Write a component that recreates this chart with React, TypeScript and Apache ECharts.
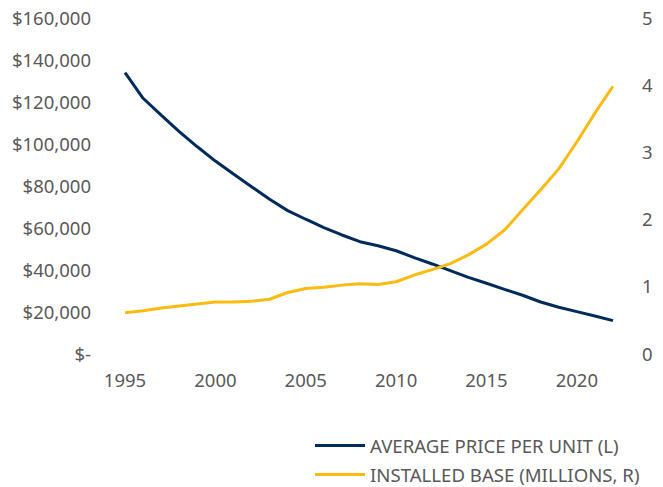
import React, { useEffect, useRef } from "react";
import * as echarts from "echarts";

const years = [
  "1995", "1996", "1997", "1998", "1999", "2000", "2001", "2002", "2003", "2004",
  "2005", "2006", "2007", "2008", "2009", "2010", "2011", "2012", "2013", "2014",
  "2015", "2016", "2017", "2018", "2019", "2020", "2021", "2022",
];

const avgPrice = [
  133500, 121300, 113300, 105400, 98200, 91400, 85200, 79200, 73200, 67800,
  63700, 59700, 56200, 53000, 51100, 48700, 45400, 42400, 39200, 36000,
  33200, 30300, 27500, 24300, 21800, 19700, 17600, 15400,
];

const installedBase = [
  0.6, 0.63, 0.67, 0.7, 0.73, 0.76, 0.76, 0.77, 0.8, 0.9,
  0.96, 0.98, 1.01, 1.03, 1.02, 1.06, 1.16, 1.24, 1.33, 1.46,
  1.62, 1.83, 2.13, 2.43, 2.74, 3.14, 3.57, 3.97,
];

const seriesNames = ["AVERAGE PRICE PER UNIT (L)", "INSTALLED BASE (MILLIONS, R)"];

const FONT = "'Noto Sans', 'Open Sans', sans-serif";
const GRAY = "#595959";
const NAVY = "#002B5C";
const GOLD = "#FDBB12";
const AXIS_FS = 18.5;
const LEGEND_FS = 18.6;

export default function App() {
  const ref = useRef<HTMLDivElement>(null);
  useEffect(() => {
    if (!ref.current) return;
    const chart = echarts.init(ref.current, undefined, { renderer: "svg" });
    const legendBase = {
      orient: "vertical",
      left: 315,
      padding: 0,
      itemWidth: 50,
      itemHeight: 3,
      itemGap: 5,
      icon: "rect",
      textStyle: { color: GRAY, fontSize: LEGEND_FS, lineHeight: 17, fontFamily: FONT },
    };
    chart.setOption({
      animation: false,
      textStyle: { fontFamily: FONT },
      grid: { left: 116, right: 41, top: 17, bottom: 487 - 353 },
      legend: [
        { ...legendBase, top: 436, data: [seriesNames[0]] },
        { ...legendBase, top: 465, data: [seriesNames[1]] },
      ],
      xAxis: {
        type: "category",
        data: years,
        boundaryGap: true,
        axisLine: { show: false },
        axisTick: { show: false },
        axisLabel: {
          interval: 4,
          color: GRAY,
          fontSize: AXIS_FS,
          margin: 17,
        },
      },
      yAxis: [
        {
          type: "value",
          min: 0,
          max: 160000,
          interval: 20000,
          splitLine: { show: false },
          axisLine: { show: false },
          axisTick: { show: false },
          axisLabel: {
            color: GRAY,
            fontSize: AXIS_FS,
            margin: 25,
            formatter: (v: number) => (v === 0 ? "$-" : "$" + v.toLocaleString("en-US")),
          },
        },
        {
          type: "value",
          min: 0,
          max: 5,
          interval: 1,
          position: "right",
          splitLine: { show: false },
          axisLine: { show: false },
          axisTick: { show: false },
          axisLabel: { color: GRAY, fontSize: AXIS_FS, margin: 20 },
        },
      ],
      series: [
        {
          name: seriesNames[0],
          type: "line",
          yAxisIndex: 0,
          data: avgPrice,
          showSymbol: false,
          color: NAVY,
          lineStyle: { width: 3, color: NAVY },
        },
        {
          name: seriesNames[1],
          type: "line",
          yAxisIndex: 1,
          data: installedBase,
          showSymbol: false,
          color: GOLD,
          lineStyle: { width: 3, color: GOLD },
        },
      ],
    });
    return () => chart.dispose();
  }, []);
  return <div ref={ref} style={{ width: 663, height: 487, position: "absolute", left: 0, top: 0 }} />;
}
